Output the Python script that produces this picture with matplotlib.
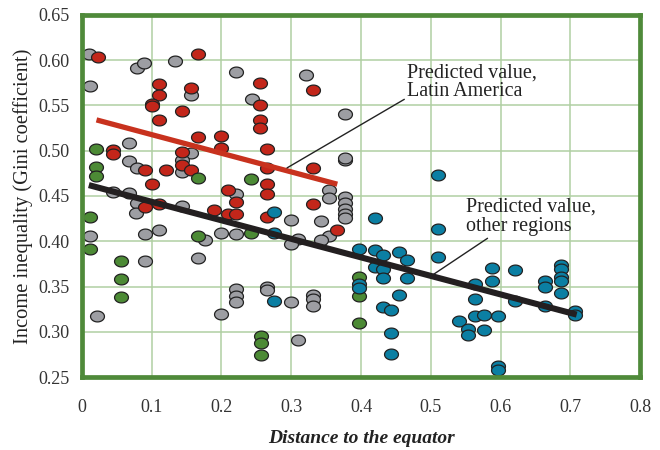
import matplotlib
matplotlib.use('Agg')
import matplotlib.pyplot as plt
import numpy as np
from matplotlib.path import Path

# Latin America
la_x = [0.023, 0.167, 0.110, 0.110, 0.100, 0.100, 0.156, 0.143, 0.110, 0.167, 0.199, 0.199,
        0.044, 0.044, 0.143, 0.143, 0.090, 0.121, 0.156, 0.100, 0.090, 0.110, 0.190, 0.255,
        0.331, 0.255, 0.255, 0.255, 0.266, 0.266, 0.331, 0.266, 0.266, 0.210, 0.221, 0.331,
        0.210, 0.221, 0.266, 0.366]
la_y = [0.604, 0.607, 0.574, 0.561, 0.552, 0.549, 0.569, 0.544, 0.534, 0.515, 0.516, 0.503,
        0.501, 0.496, 0.499, 0.484, 0.479, 0.479, 0.479, 0.463, 0.438, 0.441, 0.435, 0.575,
        0.567, 0.551, 0.534, 0.525, 0.502, 0.481, 0.481, 0.463, 0.452, 0.457, 0.443, 0.441,
        0.430, 0.430, 0.427, 0.412]

# grey group
gr_x = [0.010, 0.079, 0.089, 0.133, 0.011, 0.156, 0.067, 0.156, 0.143, 0.067, 0.079, 0.143,
        0.044, 0.067, 0.079, 0.077, 0.143, 0.221, 0.321, 0.244, 0.377, 0.377, 0.377, 0.221,
        0.354, 0.354, 0.377, 0.377, 0.377, 0.377, 0.377, 0.299, 0.343, 0.354, 0.343, 0.310,
        0.299, 0.221, 0.200, 0.011, 0.090, 0.110, 0.177, 0.167, 0.090, 0.022, 0.200, 0.221,
        0.221, 0.221, 0.266, 0.266, 0.299, 0.331, 0.331, 0.331, 0.310]
gr_y = [0.607, 0.591, 0.597, 0.599, 0.571, 0.561, 0.508, 0.498, 0.490, 0.489, 0.481, 0.476,
        0.454, 0.453, 0.442, 0.431, 0.439, 0.587, 0.584, 0.557, 0.541, 0.490, 0.492, 0.452,
        0.457, 0.448, 0.449, 0.442, 0.436, 0.430, 0.426, 0.423, 0.422, 0.406, 0.401, 0.403,
        0.397, 0.408, 0.409, 0.406, 0.408, 0.412, 0.401, 0.382, 0.378, 0.318, 0.320, 0.347,
        0.339, 0.333, 0.349, 0.346, 0.333, 0.341, 0.336, 0.329, 0.291]

# green group
gn_x = [0.021, 0.021, 0.021, 0.167, 0.243, 0.011, 0.011, 0.167, 0.056, 0.056, 0.056, 0.243,
        0.256, 0.256, 0.256, 0.397, 0.397, 0.397]
gn_y = [0.502, 0.482, 0.472, 0.470, 0.469, 0.427, 0.392, 0.406, 0.378, 0.358, 0.338, 0.409,
        0.295, 0.288, 0.274, 0.360, 0.339, 0.310]

# blue group
bl_x = [0.276, 0.276, 0.276, 0.397, 0.397, 0.397, 0.510, 0.420, 0.510, 0.510, 0.420, 0.431,
        0.454, 0.466, 0.420, 0.431, 0.431, 0.466, 0.454, 0.431, 0.443, 0.443, 0.443, 0.587,
        0.587, 0.564, 0.564, 0.564, 0.576, 0.596, 0.541, 0.553, 0.553, 0.576, 0.596, 0.596,
        0.620, 0.664, 0.664, 0.687, 0.687, 0.687, 0.687, 0.687, 0.620, 0.664, 0.707, 0.707]
bl_y = [0.432, 0.409, 0.334, 0.392, 0.353, 0.348, 0.473, 0.426, 0.413, 0.383, 0.390, 0.385,
        0.388, 0.379, 0.372, 0.369, 0.359, 0.359, 0.341, 0.327, 0.324, 0.299, 0.276, 0.370,
        0.356, 0.353, 0.336, 0.317, 0.319, 0.317, 0.312, 0.303, 0.297, 0.302, 0.262, 0.258,
        0.368, 0.356, 0.350, 0.374, 0.369, 0.361, 0.356, 0.343, 0.334, 0.329, 0.323, 0.319]

# predicted lines
la_line_x = [0.021, 0.366]
la_line_y = [0.534, 0.463]
ot_line_x = [0.010, 0.709]
ot_line_y = [0.462, 0.319]

xticks = [0, 0.1, 0.2, 0.3, 0.4, 0.5, 0.6, 0.7, 0.8]
xtick_labels = ['0', '0.1', '0.2', '0.3', '0.4', '0.5', '0.6', '0.7', '0.8']
yticks = [0.25, 0.30, 0.35, 0.40, 0.45, 0.50, 0.55, 0.60, 0.65]

plt.rcParams['font.family'] = ['Liberation Serif', 'DejaVu Serif']

fig = plt.figure(figsize=(6.6, 4.5), dpi=100)
ax = fig.add_axes([0.124, 0.162, 0.846, 0.805])

# slightly flattened ellipse marker
t = np.linspace(0, 2 * np.pi, 60)
ell = Path(np.column_stack([np.cos(t), 0.78 * np.sin(t)]), closed=True)

kw = dict(marker=ell, s=100, edgecolors='#222222', linewidths=0.9, zorder=3)
ax.scatter(gr_x, gr_y, c='#9d9ea3', **kw)
ax.scatter(la_x, la_y, c='#c3261a', **kw)
ax.scatter(gn_x, gn_y, c='#4c8a35', **kw)
ax.scatter(bl_x, bl_y, c='#0b7fa3', **kw)

ax.plot(la_line_x, la_line_y, color='#c8321e', lw=3.8, solid_capstyle='butt', zorder=4)
ax.plot(ot_line_x, ot_line_y, color='#231f20', lw=4.4, solid_capstyle='butt', zorder=4)

ax.set_xlim(0, 0.8)
ax.set_ylim(0.25, 0.65)
ax.set_xticks(xticks)
ax.set_xticklabels(xtick_labels)
ax.set_yticks(yticks)
ax.set_yticklabels(['%.2f' % v for v in yticks])
ax.tick_params(length=0, labelsize=13, colors='#333333')
ax.tick_params(axis='x', pad=16)
ax.tick_params(axis='y', pad=9)
ax.grid(True, color='#b0cfa3', lw=1.1, zorder=0)
ax.set_axisbelow(True)
for s in ax.spines.values():
    s.set_color('#4f8a3a')
    s.set_linewidth(3.4)
    s.set_zorder(5)

ax.set_xlabel('Distance to the equator', fontsize=14, style='italic', fontweight='bold',
              color='#222222', labelpad=10)
ax.set_ylabel('Income inequality (Gini coefficient)', fontsize=14.8, color='#222222', labelpad=4)

ax.annotate('Predicted value,\nLatin America', xy=(0.294, 0.481), xytext=(0.466, 0.596),
            fontsize=14.5, color='#222222', va='top', ha='left', linespacing=0.98,
            arrowprops=dict(arrowstyle='-', color='#222222', lw=1, shrinkA=0, shrinkB=0,
                            relpos=(0.0, 0.1)), zorder=6)
ax.annotate('Predicted value,\nother regions', xy=(0.503, 0.363), xytext=(0.550, 0.448),
            fontsize=14.5, color='#222222', va='top', ha='left', linespacing=0.98,
            arrowprops=dict(arrowstyle='-', color='#222222', lw=1, shrinkA=0, shrinkB=0,
                            relpos=(0.2, 0.0)), zorder=6)

fig.savefig('out.png', dpi=100)
